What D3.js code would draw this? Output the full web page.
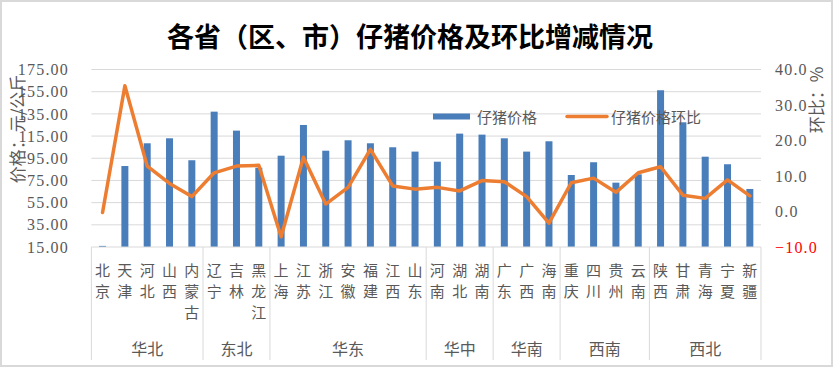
<!DOCTYPE html>
<html><head><meta charset="utf-8">
<script src="https://cdn.jsdelivr.net/npm/d3@7"></script>
<style>
html,body{margin:0;padding:0;background:#fff;}
svg{display:block;}
</style></head>
<body>
<script>
const provinces = ["北京","天津","河北","山西","内蒙古","辽宁","吉林","黑龙江","上海","江苏","浙江","安徽","福建","江西","山东","河南","湖北","湖南","广东","广西","海南","重庆","四川","贵州","云南","陕西","甘肃","青海","宁夏","新疆"];
const regions = ["华北","华北","华北","华北","华北","东北","东北","东北","华东","华东","华东","华东","华东","华东","华东","华中","华中","华中","华南","华南","华南","西南","西南","西南","西南","西北","西北","西北","西北","西北"];
const pigletPrice = [16.0,88.0,108.5,113.0,93.2,137.0,119.9,86.5,97.3,125.0,101.8,111.2,108.5,104.9,101.0,91.9,117.2,116.3,113.0,101.0,110.3,79.9,91.4,73.0,80.5,156.3,127.4,96.4,89.6,67.3];
const priceChange = [-0.3,35.4,12.8,7.9,4.2,10.9,12.8,13.0,-7.1,15.3,2.1,6.8,17.5,7.2,6.3,6.8,5.8,8.7,8.4,4.2,-3.3,8.1,9.4,5.4,10.9,12.6,4.6,3.7,8.9,4.4];
const leftTicks = [15,35,55,75,95,115,135,155,175];
const rightTicks = [-10,0,10,20,30,40];
const title = "各省（区、市）仔猪价格及环比增减情况";
const leftTitle = "价格：元/公斤";
const rightTitle = "环比：%";
const seriesNames = ["仔猪价格","仔猪价格环比"];

const W = 833, H = 368;
const svg = d3.select("body").append("svg").attr("width", W).attr("height", H);
svg.append("rect").attr("x",1).attr("y",1).attr("width",W-2).attr("height",H-3)
  .attr("fill","#fff").attr("stroke","#d9d9d9").attr("stroke-width",2);

const plotL = 91.4, plotR = 761, plotT = 69.5, plotB = 247;
const x = d3.scaleBand().domain(provinces).range([plotL, plotR]).padding(0);
const yL = d3.scaleLinear().domain([15,175]).range([plotB, plotT]);
const yR = d3.scaleLinear().domain([-10,40]).range([plotB, plotT]);
const gray = "#595959";
const numFont = "'Liberation Serif', serif";
const cjk = "'Noto Sans CJK SC', sans-serif";

// title
svg.append("text").attr("x", 410).attr("y", 35).attr("text-anchor","middle")
  .attr("dominant-baseline","central").attr("font-family", cjk).attr("font-weight","bold")
  .attr("font-size", 27).attr("fill","#000").text(title);

// gridlines
svg.append("g").selectAll("line").data(leftTicks.filter(d => d > 15)).join("line")
  .attr("x1", plotL).attr("x2", plotR).attr("y1", d => yL(d)).attr("y2", d => yL(d))
  .attr("stroke","#d9d9d9").attr("stroke-width",1);

// left axis labels
const gL = svg.append("g").attr("transform", `translate(${69},0)`)
  .call(d3.axisLeft(yL).tickValues(leftTicks).tickFormat(d3.format(".2f")).tickSize(0).tickPadding(0));
gL.select(".domain").remove();
gL.selectAll("text").attr("font-family", numFont).attr("font-size", 16).attr("fill", gray)
  .attr("letter-spacing", 1.2);

// right axis labels
const gR = svg.append("g").attr("transform", `translate(${775},0)`)
  .call(d3.axisRight(yR).tickValues(rightTicks).tickFormat(d3.format(".1f")).tickSize(0).tickPadding(0));
gR.select(".domain").remove();
gR.selectAll("text").attr("font-family", numFont).attr("font-size", 16)
  .attr("fill", d => d < 0 ? "#ff0000" : gray).attr("letter-spacing", 1.2)
  .text(d => d < 0 ? "−" + d3.format(".1f")(-d) : d3.format(".1f")(d));

// axis titles
svg.append("text").attr("transform", "translate(16,129) rotate(-90)")
  .attr("text-anchor","middle").attr("dominant-baseline","central")
  .attr("font-family", cjk).attr("font-size", 17).attr("fill", gray).text(leftTitle);
svg.append("text").attr("transform", "translate(815,100) rotate(-90)")
  .attr("text-anchor","middle").attr("dominant-baseline","central")
  .attr("font-family", cjk).attr("font-size", 17).attr("fill", gray).text(rightTitle);

// bars
const bw = 7;
svg.append("g").selectAll("rect").data(provinces).join("rect")
  .attr("x", (d) => x(d) + x.bandwidth()/2 - bw/2)
  .attr("width", bw)
  .attr("y", (d,i) => yL(pigletPrice[i]))
  .attr("height", (d,i) => plotB - yL(pigletPrice[i]))
  .attr("fill", "#4a7ebb");

// baseline
svg.append("line").attr("x1", plotL).attr("x2", plotR).attr("y1", plotB).attr("y2", plotB)
  .attr("stroke","#d9d9d9").attr("stroke-width",1);

// line
const line = d3.line().x((d,i) => x(provinces[i]) + x.bandwidth()/2).y(d => yR(d));
svg.append("path").datum(priceChange).attr("d", line).attr("fill","none")
  .attr("stroke","#ed7d31").attr("stroke-width",3.5).attr("stroke-linejoin","round").attr("stroke-linecap","round");

// category labels (vertical)
const catG = svg.append("g");
provinces.forEach((p, i) => {
  const cx = x(p) + x.bandwidth()/2;
  const t = catG.append("text").attr("text-anchor","middle").attr("font-family", cjk)
    .attr("font-size", 15).attr("fill", gray);
  p.split("").forEach((ch, k) => {
    t.append("tspan").attr("x", cx).attr("y", 276 + k*21).text(ch);
  });
});

// group dividers & labels
const groups = [];
regions.forEach((r, i) => {
  if (!groups.length || groups[groups.length-1].name !== r) groups.push({name:r, start:i, end:i});
  else groups[groups.length-1].end = i;
});
const bounds = [plotL].concat(groups.map(g => x(provinces[g.end]) + x.bandwidth()));
svg.append("g").selectAll("line").data(bounds).join("line")
  .attr("x1", d => d).attr("x2", d => d).attr("y1", plotB).attr("y2", 360)
  .attr("stroke","#d9d9d9").attr("stroke-width",1);
svg.append("g").selectAll("text").data(groups).join("text")
  .attr("x", g => (x(provinces[g.start]) + x(provinces[g.end]) + x.bandwidth())/2)
  .attr("y", 348).attr("text-anchor","middle").attr("dominant-baseline","central")
  .attr("font-family", cjk).attr("font-size", 16).attr("fill", gray).text(g => g.name);

// legend
const lg = svg.append("g");
lg.append("line").attr("x1",433).attr("x2",470).attr("y1",116.5).attr("y2",116.5)
  .attr("stroke","#4a7ebb").attr("stroke-width",6);
lg.append("text").attr("x",477).attr("y",116.5).attr("dominant-baseline","central")
  .attr("font-family", cjk).attr("font-size",15).attr("fill",gray).text(seriesNames[0]);
lg.append("line").attr("x1",567).attr("x2",607).attr("y1",116.5).attr("y2",116.5)
  .attr("stroke","#ed7d31").attr("stroke-width",3.5).attr("stroke-linecap","round");
lg.append("text").attr("x",611).attr("y",116.5).attr("dominant-baseline","central")
  .attr("font-family", cjk).attr("font-size",15).attr("fill",gray).text(seriesNames[1]);
</script>
</body></html>
